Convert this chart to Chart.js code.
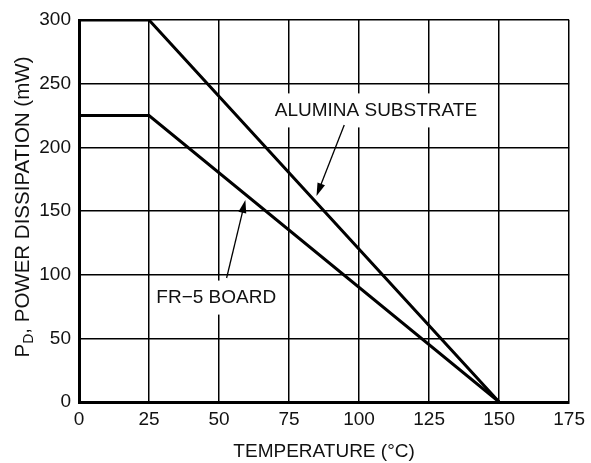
<!DOCTYPE html>
<html>
<head>
<meta charset="utf-8">
<script src="https://cdn.jsdelivr.net/npm/chart.js@4/dist/chart.umd.min.js"></script>
<style>
  html, body { margin: 0; padding: 0; background: #fff; }
  #wrap { width: 591px; height: 463px; }
</style>
</head>
<body>
<div id="wrap"><canvas id="myChart"></canvas></div>
<script>
// values
const temps = [0, 25, 150];
const alumina = [300, 300, 0];
const fr5 = [225, 225, 0];
const xTicks = [0, 25, 50, 75, 100, 125, 150, 175];
const yTicks = [0, 50, 100, 150, 200, 250, 300];

const FONT = "'Liberation Sans', Arial, sans-serif";

// callouts, placed in data units
const callouts = [
  { text: "ALUMINA SUBSTRATE", x: 106, y: 229, from: [94.7, 217.5], to: [84.8, 161.8] },
  { text: "FR\u22125 BOARD", x: 49, y: 82, from: [52.7, 97.4], to: [59.4, 158.6] },
];

function arrow(ctx, x1, y1, x2, y2) {
  const a = Math.atan2(y2 - y1, x2 - x1);
  const len = 13, half = 4;
  ctx.beginPath();
  ctx.moveTo(x1, y1);
  ctx.lineTo(x2 - Math.cos(a) * len * 0.8, y2 - Math.sin(a) * len * 0.8);
  ctx.lineWidth = 1.3;
  ctx.strokeStyle = "#000";
  ctx.stroke();
  ctx.beginPath();
  ctx.moveTo(x2, y2);
  ctx.lineTo(x2 - Math.cos(a) * len - Math.sin(a) * half, y2 - Math.sin(a) * len + Math.cos(a) * half);
  ctx.lineTo(x2 - Math.cos(a) * len + Math.sin(a) * half, y2 - Math.sin(a) * len - Math.cos(a) * half);
  ctx.closePath();
  ctx.fillStyle = "#000";
  ctx.fill();
}

const calloutPlugin = {
  id: "callouts",
  afterDatasetsDraw(chart) {
    const ctx = chart.ctx;
    const xs = chart.scales.x, ys = chart.scales.y;
    ctx.save();
    ctx.font = "19px " + FONT;
    ctx.textAlign = "center";
    ctx.textBaseline = "middle";
    callouts.forEach(c => {
      const px = xs.getPixelForValue(c.x), py = ys.getPixelForValue(c.y);
      const w = ctx.measureText(c.text).width;
      ctx.fillStyle = "#fff";
      ctx.fillRect(px - w / 2 - 4, py - 17, w + 8, 34);
      ctx.fillStyle = "#111";
      ctx.fillText(c.text, px, py);
      arrow(ctx, xs.getPixelForValue(c.from[0]), ys.getPixelForValue(c.from[1]),
                 xs.getPixelForValue(c.to[0]), ys.getPixelForValue(c.to[1]));
    });
    ctx.restore();
  }
};

// y title with a subscript D
const yTitlePlugin = {
  id: "yTitle",
  afterDraw(chart) {
    const ctx = chart.ctx;
    const area = chart.chartArea;
    const main = "20.5px " + FONT, sub = "14px " + FONT;
    const parts = [["P", main, 0], ["D", sub, 6], [", POWER DISSIPATION (mW)", main, 0]];
    ctx.save();
    let total = 0;
    parts.forEach(p => { ctx.font = p[1]; total += ctx.measureText(p[0]).width; });
    ctx.translate(23, (area.top + area.bottom) / 2 - 4);
    ctx.rotate(-Math.PI / 2);
    ctx.fillStyle = "#111";
    ctx.textBaseline = "middle";
    ctx.textAlign = "left";
    let x = -total / 2;
    parts.forEach(p => {
      ctx.font = p[1];
      ctx.fillText(p[0], x, p[2]);
      x += ctx.measureText(p[0]).width;
    });
    ctx.restore();
  }
};

const ctx = document.getElementById("myChart");
new Chart(ctx, {
  type: "line",
  data: {
    datasets: [
      {
        label: "ALUMINA SUBSTRATE",
        data: temps.map((t, i) => ({ x: t, y: alumina[i] })),
        borderColor: "#000",
        borderWidth: 3,
        pointRadius: 0,
        tension: 0,
      },
      {
        label: "FR-5 BOARD",
        data: temps.map((t, i) => ({ x: t, y: fr5[i] })),
        borderColor: "#000",
        borderWidth: 3,
        pointRadius: 0,
        tension: 0,
      },
    ],
  },
  options: {
    responsive: true,
    maintainAspectRatio: false,
    animation: false,
    layout: { padding: { left: 0, right: 17, top: 20, bottom: 0 } },
    plugins: {
      legend: { display: false },
      tooltip: { enabled: false },
    },
    scales: {
      x: {
        type: "linear",
        min: 0,
        max: 175,
        afterBuildTicks: s => { s.ticks = xTicks.map(v => ({ value: v })); },
        afterFit: s => { s.height = 61; },
        grid: { color: "#000", lineWidth: 1.5, drawTicks: false },
        border: { color: "#000", width: 3 },
        ticks: { color: "#111", font: { family: FONT, size: 19 }, padding: 6 },
        title: {
          display: true,
          text: "TEMPERATURE (\u00B0C)",
          color: "#111",
          font: { family: FONT, size: 19 },
          padding: { top: 1, bottom: 0 },
        },
      },
      y: {
        type: "linear",
        min: 0,
        max: 300,
        afterBuildTicks: s => { s.ticks = yTicks.map(v => ({ value: v })); },
        afterFit: s => { s.width = 79; },
        grid: { color: "#000", lineWidth: 1.5, drawTicks: false },
        border: { color: "#000", width: 3 },
        ticks: { color: "#111", font: { family: FONT, size: 19 }, padding: 8 },
      },
    },
  },
  plugins: [calloutPlugin, yTitlePlugin],
});
</script>
</body>
</html>
